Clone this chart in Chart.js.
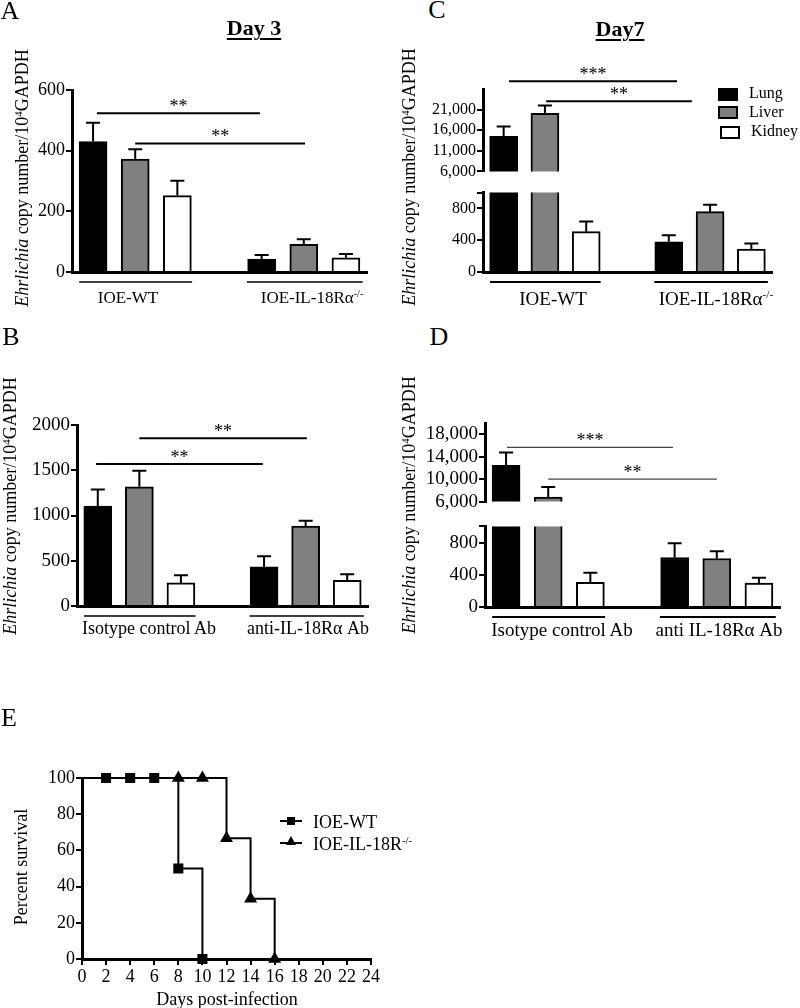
<!DOCTYPE html>
<html>
<head>
<meta charset="utf-8">
<script src="https://cdn.jsdelivr.net/npm/chart.js@4.4.1/dist/chart.umd.min.js"></script>
<style>
html, body { margin: 0; padding: 0; background: #fff; }
body { width: 800px; height: 1008px; position: relative; overflow: hidden;
       font-family: 'Liberation Serif', 'Times New Roman', serif; color: #000; }
canvas { position: absolute; }
.t { position: absolute; white-space: nowrap; line-height: 1; }
.c { transform: translate(-50%, -50%); }
.l { transform: translate(0, -50%); }
.v { transform: translate(-50%, -50%) rotate(-90deg); }
sup { font-size: 0.6em; vertical-align: 0; position: relative; top: -0.6em; }
.ttl { font-size: 22px; font-weight: bold; text-decoration: underline;
       text-decoration-thickness: 2px; text-underline-offset: 3px; }
.sw { position: absolute; width: 20px; height: 13px; border: 2px solid #000; box-sizing: border-box; }
</style>
</head>
<body>

<canvas id="cA" width="400" height="320" style="left:0;top:0"></canvas>
<canvas id="cCup" width="400" height="142" style="left:400px;top:40px"></canvas>
<canvas id="cClo" width="400" height="138" style="left:400px;top:182px"></canvas>
<canvas id="cB" width="400" height="330" style="left:0;top:310px"></canvas>
<canvas id="cDup" width="400" height="144" style="left:400px;top:370px"></canvas>
<canvas id="cDlo" width="400" height="126" style="left:400px;top:514px"></canvas>
<canvas id="cE" width="420" height="318" style="left:0;top:690px"></canvas>

<!-- panel letters and titles -->
<div class="t c" style="left:10px;top:11px;font-size:26px">A</div>
<div class="t c" style="left:437px;top:10px;font-size:26px">C</div>
<div class="t c" style="left:11px;top:337px;font-size:26px">B</div>
<div class="t c" style="left:439px;top:337px;font-size:26px">D</div>
<div class="t c" style="left:9px;top:718px;font-size:26px">E</div>
<div class="t c ttl" style="left:254px;top:28px">Day 3</div>
<div class="t c ttl" style="left:620px;top:29px">Day7</div>

<!-- y axis titles -->
<div class="t v" style="left:22px;top:178px;font-size:18px"><i>Ehrlichia</i> copy number/10<sup>4</sup>GAPDH</div>
<div class="t v" style="left:409px;top:177px;font-size:18px"><i>Ehrlichia</i> copy number/10<sup>4</sup>GAPDH</div>
<div class="t v" style="left:10px;top:506px;font-size:18px"><i>Ehrlichia</i> copy number/10<sup>4</sup>GAPDH</div>
<div class="t v" style="left:409px;top:505px;font-size:18px"><i>Ehrlichia</i> copy number/10<sup>4</sup>GAPDH</div>

<!-- group labels -->
<div class="t c" style="left:128px;top:297px;font-size:17px">IOE-WT</div>
<div class="t c" style="left:312px;top:297px;font-size:17px">IOE-IL-18Rα<sup>-/-</sup></div>
<div class="t c" style="left:553px;top:298px;font-size:19px">IOE-WT</div>
<div class="t c" style="left:716px;top:298px;font-size:19px">IOE-IL-18Rα<sup>-/-</sup></div>
<div class="t c" style="left:149px;top:628px;font-size:18px">Isotype control Ab</div>
<div class="t c" style="left:308px;top:628px;font-size:18px">anti-IL-18Rα Ab</div>
<div class="t c" style="left:562px;top:629px;font-size:19px">Isotype control Ab</div>
<div class="t c" style="left:719px;top:629px;font-size:19px">anti IL-18Rα Ab</div>

<!-- legend, panel C -->
<div class="sw" style="left:718px;top:88px;background:#000"></div>
<div class="sw" style="left:718px;top:106px;background:#808080"></div>
<div class="sw" style="left:720px;top:126px;background:#fff"></div>
<div class="t l" style="left:749px;top:93px;font-size:16px">Lung</div>
<div class="t l" style="left:749px;top:112px;font-size:16px">Liver</div>
<div class="t l" style="left:751px;top:131px;font-size:16px">Kidney</div>

<!-- panel E titles and legend -->
<div class="t v" style="left:21px;top:867px;font-size:18px">Percent survival</div>
<div class="t c" style="left:227px;top:999px;font-size:18px">Days post-infection</div>
<div style="position:absolute;left:280px;top:820px;width:22px;height:2px;background:#000"></div>
<div style="position:absolute;left:287px;top:817px;width:8px;height:8px;background:#000"></div>
<div style="position:absolute;left:280px;top:842px;width:22px;height:2px;background:#000"></div>
<div style="position:absolute;left:286px;top:836px;width:0;height:0;border-left:5px solid transparent;border-right:5px solid transparent;border-bottom:9px solid #000"></div>
<div class="t l" style="left:313px;top:822px;font-size:18px">IOE-WT</div>
<div class="t l" style="left:313px;top:844px;font-size:18px">IOE-IL-18R<sup>-/-</sup></div>

<script>
Chart.defaults.font.family = "'Liberation Serif', 'Times New Roman', serif";
Chart.defaults.color = '#000';

const organs = ['Lung', 'Liver', 'Kidney'];
const organFill = ['#000000', '#808080', '#ffffff'];

// A: day 3, IOE-WT vs IOE-IL-18Ra-/-  (mean, SEM)
const lungA = [430, 43],   lungErrA = [62, 13];
const liverA = [372, 91],  liverErrA = [33, 17];
const kidneyA = [252, 47], kidneyErrA = [49, 12];
const ticksA = [0, 200, 400, 600];

// B: day 3, isotype control vs anti-IL-18Ra Ab
const lungB = [1103, 432],  lungErrB = [185, 118];
const liverB = [1317, 882], liverErrB = [177, 59];
const kidneyB = [255, 283], kidneyErrB = [85, 67];
const ticksB = [0, 500, 1000, 1500, 2000];

// C: day 7, IOE-WT vs IOE-IL-18Ra-/-
const lungC = [14540, 380],  lungErrC = [2350, 84];
const liverC = [20100, 760], liverErrC = [1900, 88];
const kidneyC = [508, 288],  kidneyErrC = [128, 72];
const ticksCup = [6000, 11000, 16000, 21000];
const ticksClo = [0, 400, 800, 1000];

// D: day 7, isotype control vs anti IL-18Ra Ab
const lungD = [12440, 614],  lungErrD = [2300, 178];
const liverD = [6820, 602],  liverErrD = [1800, 91];
const kidneyD = [305, 297],  kidneyErrD = [119, 67];
const ticksDup = [6000, 10000, 14000, 18000];
const ticksDlo = [0, 400, 800, 1000];

// E: survival
const daysWT = [0, 2, 4, 6, 8, 10];
const survWT = [100, 100, 100, 100, 50, 0];
const daysKO = [0, 8, 10, 12, 14, 16];
const survKO = [100, 100, 100, 66.7, 33.3, 0];

// significance brackets (x in bar slots, y in data units)
const sigA = [{x1: 0.09, x2: 3.96, y: 523, text: '**'}, {x1: 1.0, x2: 5.03, y: 424, text: '**'}];
const sigB = [{x1: 1.0, x2: 5.03, y: 1853, text: '**'}, {x1: -0.04, x2: 3.97, y: 1568, text: '**'}];
const sigC = [{x1: 0.13, x2: 4.2, y: 27880, text: '***'}, {x1: 1.03, x2: 4.56, y: 23010, text: '**'}];
const sigD = [{x1: 0.02, x2: 3.96, y: 15670, text: '***'}, {x1: 1.0, x2: 5.0, y: 10000, text: '**'}];
const groupSpans = [[-0.33, 2.35], [3.65, 6.4]];

// one-sided SEM bars on top of each bar
const errorBars = {
    id: 'errorBars',
    afterDatasetsDraw(chart) {
        const ctx = chart.ctx;
        const yScale = chart.scales.y;
        chart.data.datasets.forEach((ds, di) => {
            const meta = chart.getDatasetMeta(di);
            meta.data.forEach((bar, i) => {
                const v = ds.data[i].y;
                const e = ds.sem[i];
                if (v == null || v > yScale.max || v + e > yScale.max) return;
                const top = yScale.getPixelForValue(v + e);
                ctx.save();
                ctx.strokeStyle = '#000';
                ctx.lineWidth = 2;
                ctx.beginPath();
                ctx.moveTo(bar.x, bar.y);
                ctx.lineTo(bar.x, top);
                ctx.moveTo(bar.x - 7, top);
                ctx.lineTo(bar.x + 7, top);
                ctx.stroke();
                ctx.restore();
            });
        });
    }
};

function annotations(sig, groups, style) {
    return {
        id: 'annotations',
        afterDraw(chart) {
            const {ctx, chartArea} = chart;
            const xs = chart.scales.x, ys = chart.scales.y;
            ctx.save();
            ctx.fillStyle = '#000';
            ctx.font = "18px 'Liberation Serif'";
            ctx.textAlign = 'center';
            ctx.textBaseline = 'alphabetic';
            ctx.strokeStyle = style.sigColor;
            ctx.lineWidth = style.sigWidth;
            sig.forEach(s => {
                const py = ys.getPixelForValue(s.y);
                const x1 = xs.getPixelForValue(s.x1), x2 = xs.getPixelForValue(s.x2);
                ctx.beginPath();
                ctx.moveTo(x1, py);
                ctx.lineTo(x2, py);
                ctx.stroke();
                ctx.fillText(s.text, (x1 + x2) / 2, py - 1.5);
            });
            ctx.strokeStyle = '#000';
            ctx.lineWidth = style.groupWidth;
            groups.forEach(g => {
                const py = chartArea.bottom + 10;
                ctx.beginPath();
                ctx.moveTo(xs.getPixelForValue(g[0]), py);
                ctx.lineTo(xs.getPixelForValue(g[1]), py);
                ctx.stroke();
            });
            ctx.restore();
        }
    };
}

function makeBars(id, vals, errs, cfg) {
    const datasets = organs.map((name, o) => ({
        label: name,
        data: vals[o].map((v, g) => ({x: g * 4 + o, y: v >= cfg.min ? v : null})),
        sem: errs[o],
        backgroundColor: organFill[o],
        borderColor: '#000',
        borderWidth: 2,
        borderSkipped: 'start',
        barThickness: 28,
        grouped: false
    }));
    return new Chart(document.getElementById(id), {
        type: 'bar',
        data: {datasets: datasets},
        options: {
            animation: false,
            responsive: false,
            layout: {padding: {top: cfg.padTop, right: cfg.padRight, bottom: cfg.padBottom || 0, left: 0}},
            plugins: {legend: {display: false}, tooltip: {enabled: false}},
            scales: {
                x: {
                    type: 'linear', min: -0.5, max: 6.5, offset: false,
                    display: cfg.xh != null,
                    ticks: {display: false},
                    grid: {display: false},
                    border: {display: true, width: 3, color: '#000'},
                    afterFit: s => { if (cfg.xh != null) s.height = cfg.xh; }
                },
                y: {
                    min: cfg.min, max: cfg.max,
                    afterBuildTicks: s => { s.ticks = cfg.ticks.map(v => ({value: v})); },
                    ticks: {
                        font: {size: cfg.fontSize},
                        color: '#000',
                        padding: 1,
                        callback: v => (cfg.hide && cfg.hide.includes(v)) ? '' :
                            (cfg.comma ? v.toLocaleString('en-US') : String(v))
                    },
                    grid: {display: true, drawOnChartArea: false, tickLength: 6, color: '#000', lineWidth: 2},
                    border: {display: true, width: 3, color: '#000'},
                    afterFit: s => { s.width = cfg.yw; }
                }
            }
        },
        plugins: [errorBars, annotations(cfg.sig || [], cfg.groups || [], cfg.style || {sigColor: '#000', sigWidth: 2, groupWidth: 1.6})]
    });
}

// A
makeBars('cA', [lungA, liverA, kidneyA], [lungErrA, liverErrA, kidneyErrA], {
    min: 0, max: 600, ticks: ticksA, fontSize: 18, yw: 72,
    padTop: 90, padRight: 33, xh: 48, sig: sigA, groups: groupSpans
});

// C (broken axis: upper and lower part)
makeBars('cCup', [lungC, liverC, kidneyC], [lungErrC, liverErrC, kidneyErrC], {
    min: 6000, max: 26000, ticks: ticksCup, fontSize: 16, comma: true, yw: 83,
    padTop: 49, padRight: 28, padBottom: 8, xh: null, sig: sigC
});
makeBars('cClo', [lungC, liverC, kidneyC], [lungErrC, liverErrC, kidneyErrC], {
    min: 0, max: 1000, ticks: ticksClo, hide: [1000], fontSize: 16, comma: true, yw: 83,
    padTop: 7, padRight: 28, xh: 48, groups: groupSpans,
    style: {sigColor: '#000', sigWidth: 2, groupWidth: 2}
});

// B
makeBars('cB', [lungB, liverB, kidneyB], [lungErrB, liverErrB, kidneyErrB], {
    min: 0, max: 2000, ticks: ticksB, fontSize: 19, yw: 77,
    padTop: 115, padRight: 32, xh: 34, sig: sigB, groups: groupSpans
});

// D (broken axis)
makeBars('cDup', [lungD, liverD, kidneyD], [lungErrD, liverErrD, kidneyErrD], {
    min: 6000, max: 20000, ticks: ticksDup, fontSize: 19, comma: true, yw: 85,
    padTop: 53, padRight: 20, padBottom: 6, xh: null, sig: sigD,
    style: {sigColor: '#444', sigWidth: 1.2, groupWidth: 2}
});
makeBars('cDlo', [lungD, liverD, kidneyD], [lungErrD, liverErrD, kidneyErrD], {
    min: 0, max: 1000, ticks: ticksDlo, hide: [1000], fontSize: 19, comma: true, yw: 85,
    padTop: 7, padRight: 20, xh: 33, groups: groupSpans,
    style: {sigColor: '#000', sigWidth: 2, groupWidth: 2}
});

// E: Kaplan-Meier survival
new Chart(document.getElementById('cE'), {
    type: 'line',
    data: {
        datasets: [
            {
                label: 'IOE-WT',
                data: daysWT.map((d, i) => ({x: d, y: survWT[i]})),
                stepped: true, borderColor: '#000', borderWidth: 2, fill: false, clip: false,
                pointStyle: 'rect', pointRadius: ctx => ctx.dataIndex === 0 ? 0 : 5.7,
                pointBackgroundColor: '#000', pointBorderColor: '#000'
            },
            {
                label: 'IOE-IL-18R-/-',
                data: daysKO.map((d, i) => ({x: d, y: survKO[i]})),
                stepped: true, borderColor: '#000', borderWidth: 2, fill: false, clip: false,
                pointStyle: 'triangle', pointRadius: ctx => ctx.dataIndex === 0 ? 0 : 5.5,
                pointBackgroundColor: '#000', pointBorderColor: '#000'
            }
        ]
    },
    options: {
        animation: false,
        responsive: false,
        layout: {padding: {top: 88, right: 49, bottom: 0, left: 0}},
        plugins: {legend: {display: false}, tooltip: {enabled: false}},
        scales: {
            x: {
                type: 'linear', min: 0, max: 24,
                ticks: {stepSize: 2, font: {size: 18}, color: '#000', padding: 1, maxRotation: 0, autoSkip: false},
                grid: {display: true, drawOnChartArea: false, tickLength: 6, color: '#000', lineWidth: 2},
                border: {display: true, width: 3, color: '#000'},
                afterFit: s => { s.height = 49; }
            },
            y: {
                min: 0, max: 100,
                ticks: {stepSize: 20, font: {size: 18}, color: '#000', padding: 1},
                grid: {display: true, drawOnChartArea: false, tickLength: 6, color: '#000', lineWidth: 2},
                border: {display: true, width: 3, color: '#000'},
                afterFit: s => { s.width = 82; }
            }
        }
    }
});
</script>
</body>
</html>
